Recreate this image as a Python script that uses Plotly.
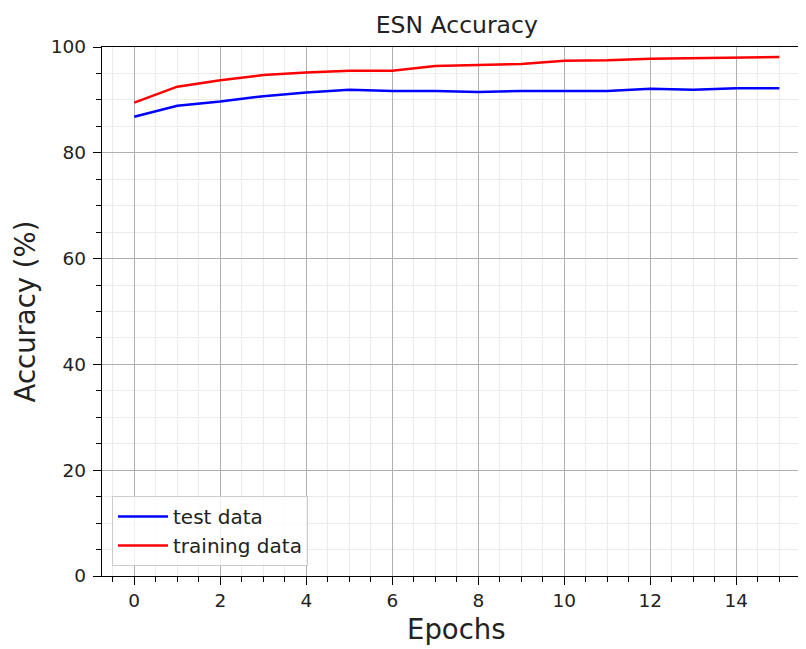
import plotly.graph_objects as go

epochs = list(range(16))
test_acc = [86.8, 88.9, 89.7, 90.7, 91.4, 91.9, 91.7, 91.7, 91.5, 91.7, 91.7, 91.7, 92.1, 91.9, 92.2, 92.2]
train_acc = [89.5, 92.5, 93.7, 94.7, 95.2, 95.5, 95.5, 96.4, 96.6, 96.8, 97.4, 97.5, 97.8, 97.9, 98.1, 98.1]

FONT = "DejaVu Sans"
TXT = "#222222"

fig = go.Figure()
fig.add_trace(go.Scatter(x=epochs, y=test_acc, mode="lines", name="test data",
                         line=dict(color="#0000ff", width=2.5)))
fig.add_trace(go.Scatter(x=epochs, y=train_acc, mode="lines", name="training data",
                         line=dict(color="#ff0000", width=2.5)))

# page body adds an 8px offset, so the figure is 8px smaller than the window
W, H = 798, 641
L, T, B, R = 94, 39, 73, 0
PW, PH = W - L - R, H - T - B
X0, X1 = -0.75, 15.62
# centre of the full matplotlib-style axes (-0.75 .. 15.75) in paper coordinates
cx = (7.5 - X0) / (X1 - X0)

fig.update_layout(
    width=W, height=H,
    margin=dict(l=L, r=R, t=T, b=B),
    paper_bgcolor="white", plot_bgcolor="white",
    font=dict(family=FONT, size=18, color=TXT),
    title=dict(text="ESN Accuracy", x=(L + PW * cx) / W,
               xanchor="center", y=1 - 17 / H, yanchor="middle",
               font=dict(size=23.5, color=TXT)),
    showlegend=True,
    legend=dict(x=10 / PW, y=10 / PH, xanchor="left", yanchor="bottom",
                bgcolor="rgba(255,255,255,0.8)", bordercolor="#cccccc", borderwidth=1,
                font=dict(size=20, color=TXT), tracegroupgap=0, itemwidth=50),
    xaxis=dict(
        range=[X0, X1], tickmode="linear", tick0=0, dtick=2,
        showline=True, linecolor="black", linewidth=1.3, mirror=True,
        ticks="outside", ticklen=8, tickwidth=1.3, tickcolor="black",
        showgrid=True, gridcolor="#b0b0b0", gridwidth=1.2,
        zeroline=False,
        minor=dict(tickmode="linear", tick0=0, dtick=0.5, ticks="outside", ticklen=4.5,
                   tickcolor="black", tickwidth=1, showgrid=True, gridcolor="#ebebeb", gridwidth=1),
        tickfont=dict(size=18.5, color=TXT),
    ),
    yaxis=dict(
        range=[0, 100], tickmode="linear", tick0=0, dtick=20,
        showline=True, linecolor="black", linewidth=1.3, mirror=False,
        ticks="outside", ticklen=8, tickwidth=1.3, tickcolor="black",
        showgrid=True, gridcolor="#b0b0b0", gridwidth=1.2,
        zeroline=False, ticklabelstandoff=3,
        minor=dict(tickmode="linear", tick0=0, dtick=5, ticks="outside", ticklen=4.5,
                   tickcolor="black", tickwidth=1, showgrid=True, gridcolor="#ebebeb", gridwidth=1),
        title=dict(text="Accuracy (%)", font=dict(size=27.5, color=TXT), standoff=7),
        tickfont=dict(size=18.5, color=TXT),
    ),
    annotations=[dict(text="Epochs", xref="paper", yref="paper", x=cx, y=-(629 - 8 - T - PH) / PH,
                      xanchor="center", yanchor="middle", showarrow=False,
                      font=dict(size=27.5, color=TXT))],
)

fig.write_html("out.html")
